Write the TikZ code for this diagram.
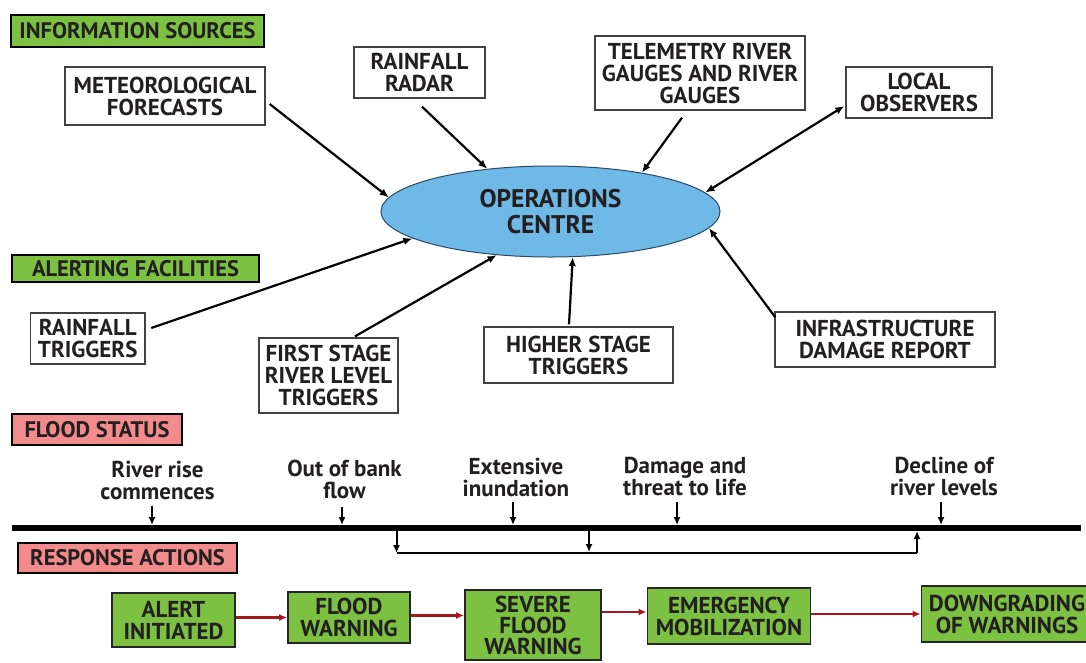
\documentclass[tikz,border=0pt]{standalone}
\usepackage{fontspec}
\setmainfont{PT Sans}
\usetikzlibrary{arrows.meta,shapes.geometric}
\definecolor{txt}{HTML}{231F20}
\definecolor{hgreen}{HTML}{7DC142}
\definecolor{hpink}{HTML}{F28C8C}
\definecolor{opsblue}{HTML}{6EB9E6}
\definecolor{opsedge}{HTML}{2A4A6A}
\definecolor{redarr}{HTML}{A5171C}
\tikzset{
  lbl/.style={font=\bfseries\fontsize{23}{22}\selectfont, text=txt, align=center},
  srcbox/.style={lbl, draw=txt!85, line width=1.3pt, fill=white, inner sep=0pt},
  hdr/.style={font=\bfseries\fontsize{22.5}{22}\selectfont, text=txt, align=center, draw=black, line width=1.5pt, inner sep=0pt},
  hdrg/.style={hdr, fill=hgreen},
  hdrp/.style={hdr, fill=hpink},
  actbox/.style={lbl, draw=black!85, line width=1.8pt, fill=hgreen, inner sep=0pt},
  arr/.style={draw=black, line width=2.2pt, -{Latex[length=9pt,width=7.5pt]}},
  dblarr/.style={draw=black, line width=2.2pt, {Latex[length=9pt,width=7.5pt]}-{Latex[length=9pt,width=7.5pt]}},
  tickarr/.style={draw=black, line width=2pt, -{Latex[length=8pt,width=7pt]}},
  brk/.style={draw=black, line width=2pt, line join=round},
  brkarr/.style={brk, -{Latex[length=8pt,width=7pt]}},
  redline/.style={draw=redarr, line width=2.5pt, -{Latex[length=8pt,width=7pt]}},
}
\begin{document}
\begin{tikzpicture}[x=1pt,y=-1pt]
\useasboundingbox (0,0) rectangle (1086,662);

% headers
\node[hdrg, minimum width=253pt, minimum height=32pt] (infosrc) at (137.5,31) {INFORMATION SOURCES};
\node[hdrg, minimum width=247pt, minimum height=27pt] (alertfac) at (135.5,268.5) {ALERTING FACILITIES};
\node[hdrp, minimum width=170pt, minimum height=31pt] (fstatus) at (97,429.5) {FLOOD STATUS};
\node[hdrp, minimum width=219pt, minimum height=30pt] (resp) at (127.5,558) {RESPONSE ACTIONS};

% operations centre
\node[ellipse, draw=opsedge, line width=1pt, fill=opsblue, minimum width=339pt, minimum height=91pt, inner sep=0pt,
      font=\bfseries\fontsize{25.5}{26}\selectfont, text=txt, align=center] (ops) at (550.5,211.5) {OPERATIONS\\CENTRE};

% information sources
\node[srcbox, minimum width=200pt, minimum height=58pt] (meteo) at (165,96) {METEOROLOGICAL\\FORECASTS};
\node[srcbox, minimum width=131pt, minimum height=51pt] (radar) at (419.5,72.5) {RAINFALL\\RADAR};
\node[srcbox, minimum width=210pt, minimum height=74pt] (telem) at (700,73) {TELEMETRY RIVER\\GAUGES AND RIVER\\GAUGES};
\node[srcbox, minimum width=146pt, minimum height=51pt] (local) at (919,92.5) {LOCAL\\OBSERVERS};

% alerting facilities
\node[srcbox, minimum width=114.5pt, minimum height=51pt] (rtrig) at (87.75,338.5) {RAINFALL\\TRIGGERS};
\node[srcbox, minimum width=139pt, minimum height=75pt] (first) at (328.5,375.5) {FIRST STAGE\\RIVER LEVEL\\TRIGGERS};
\node[srcbox, minimum width=189pt, minimum height=56pt] (higher) at (578.5,355) {HIGHER STAGE\\TRIGGERS};
\node[srcbox, minimum width=220pt, minimum height=55pt] (infra) at (885,339.5) {INFRASTRUCTURE\\DAMAGE REPORT};

% connectors to the operations centre
\draw[arr] ([shift={(4,8)}]meteo.east) -- (ops.175);
\draw[arr] ([shift={(2.5,8)}]radar.south) -- (ops.146.6);
\draw[arr] ([shift={(-18,7)}]telem.south) -- (ops.23.6);
\draw[dblarr] ([shift={(-1,13.5)}]local.west) -- (ops.7);
\draw[arr] ([shift={(1,6)}]infra.north west) -- (ops.-6.2);
\draw[arr] ([shift={(-9.5,-2)}]higher.north) -- (ops.-64.2);
\draw[arr] ([shift={(26.5,-1)}]first.north) -- (ops.219.9);
\draw[arr] ([shift={(5.6,-10.5)}]rtrig.east) -- (ops.191.6);

% flood status timeline
\coordinate (tlL) at (12,528);
\coordinate (tlR) at (1081,528);
\draw[line width=6pt, black] (tlL) -- (tlR);

\node[lbl] (s1) at (157.5,480) {River rise\\commences};
\node[lbl] (s2) at (344.5,479) {Out of bank\\flow};
\node[lbl] (s3) at (516,477) {Extensive\\inundation};
\node[lbl] (s4) at (685,476) {Damage and\\threat to life};
\node[lbl] (s5) at (944,476) {Decline of\\river levels};

\coordinate (t1) at (152,525);
\coordinate (t2) at (342,525);
\coordinate (t3) at (513,525);
\coordinate (t4) at (677,525);
\coordinate (t5) at (941,525);
\draw[tickarr, shorten <=3pt] (s1.south -| t1) -- (t1);
\draw[tickarr, shorten <=5pt] (s2.south -| t2) -- (t2);
\draw[tickarr, shorten <=2pt] (s3.south -| t3) -- (t3);
\draw[tickarr, shorten <=3pt] (s4.south -| t4) -- (t4);
\draw[tickarr, shorten <=3pt] (s5.south -| t5) -- (t5);

% bracket under the timeline
\coordinate (bL) at (396.5,531);
\coordinate (bLc) at (396.5,553);
\coordinate (bM) at (589,531);
\coordinate (bMc) at (589,552);
\coordinate (bRc) at (917,553);
\coordinate (bR) at (917,531);
\draw[brkarr] (bL) -- (bLc);
\draw[brk] (bLc) -- (bRc);
\draw[brkarr] (bRc) -- (bR);
\draw[brkarr] (bM) -- (bMc);

% response actions
\node[actbox, minimum width=123pt, minimum height=54pt] (alert) at (173.5,620) {ALERT\\INITIATED};
\node[actbox, minimum width=122pt, minimum height=51pt] (fwarn) at (349,617.5) {FLOOD\\WARNING};
\node[actbox, minimum width=136pt, minimum height=70pt, font=\bfseries\fontsize{23}{21}\selectfont] (severe) at (533,625) {SEVERE\\FLOOD\\WARNING};
\node[actbox, minimum width=163pt, minimum height=56pt] (emerg) at (729,616) {EMERGENCY\\MOBILIZATION};
\node[actbox, minimum width=171pt, minimum height=56pt] (down) at (1007,614) {DOWNGRADING\\OF WARNINGS};

\draw[redline] (alert.east |- fwarn.west) -- (fwarn.west);
\draw[redline] ([yshift=2pt]fwarn.east) -- ([yshift=2pt]fwarn.east -| severe.west);
\draw[redline] ([yshift=4pt]severe.east |- emerg.west) -- ([yshift=4pt]emerg.west);
\draw[redline] ([yshift=2pt]emerg.east) -- ([yshift=2pt]emerg.east -| down.west);
\end{tikzpicture}
\end{document}
